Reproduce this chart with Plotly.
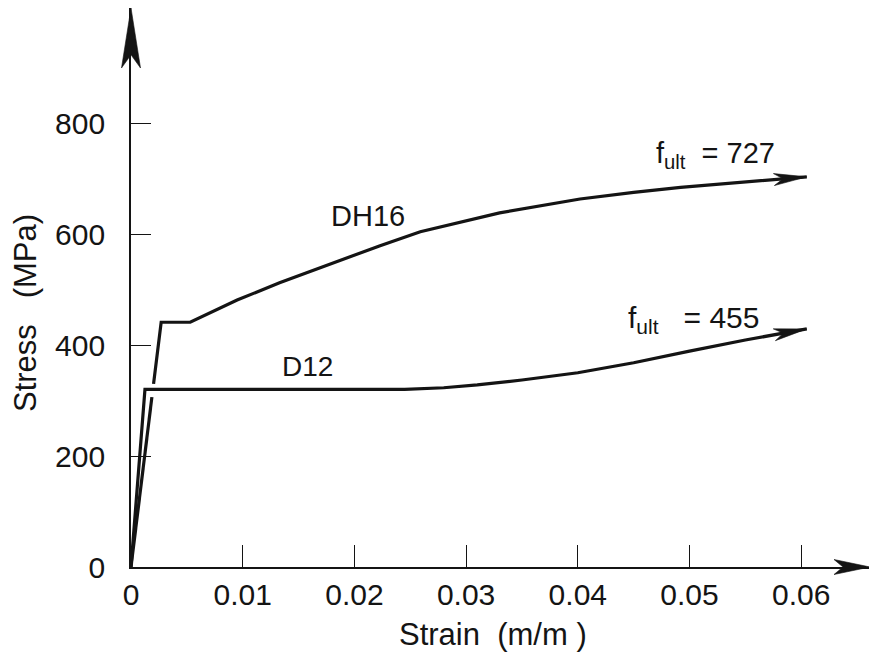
import math
import plotly.graph_objects as go

# ---------------- data ----------------
d12_strain = [0, 0.00125, 0.0245, 0.028, 0.031, 0.035, 0.040, 0.045, 0.050, 0.055, 0.0605]
d12_stress = [0, 320, 320, 323, 328, 337, 350, 368, 389, 409, 429]

dh16_strain = [0, 0.00187, None, 0.00202, 0.0027, 0.0053, 0.0095, 0.0133, 0.0187, 0.0223,
               0.0259, 0.0300, 0.0330, 0.0402, 0.0450, 0.0492, 0.0540, 0.0575, 0.0605]
dh16_stress = [0, 306, None, 330, 441, 441, 481, 512, 553, 579,
               604, 624, 638, 663, 675, 684, 692, 698, 703]

x_tick_vals = [0, 0.01, 0.02, 0.03, 0.04, 0.05, 0.06]
x_tick_text = ["0", "0.01", "0.02", "0.03", "0.04", "0.05", "0.06"]
y_tick_vals = [0, 200, 400, 600, 800]
y_tick_text = ["0", "200", "400", "600", "800"]

curve_labels = ["DH16", "D12"]
ult_values = [727, 455]

# ---------------- layout geometry ----------------
OFF = 8                       # page body margin of the html page
W, H = 877 - OFF, 653 - OFF
ML, MR, MT = 131 - OFF, 7, 0
MB = H - (567 - OFF)
PW, PH = W - ML - MR, H - MT - MB
KX = 11170.0          # px per unit strain
KY = 0.555            # px per MPa
XMAX = PW / KX
YMAX = PH / KY

INK = "#141414"
FONT = "Liberation Sans, Arial, sans-serif"


def px_x(page_px):
    return (page_px - OFF - ML) / PW


def px_y(page_py):
    return (MT + PH - (page_py - OFF)) / PH


def to_paper(x, y):
    return x / XMAX, y / YMAX


def dart(ax, ay, angle, length, width, notch=0.72):
    """Dart-shaped arrowhead path in pixel units, anchored at paper (ax, ay)."""
    c, s = math.cos(angle), math.sin(angle)
    pts = [(0, 0), (-length, width / 2), (-length * notch, 0), (-length, -width / 2)]
    rot = [(u * c - v * s, u * s + v * c) for u, v in pts]
    path = "M " + " L ".join(f"{u:.2f},{v:.2f}" for u, v in rot) + " Z"
    return dict(type="path", xref="paper", yref="paper",
                xsizemode="pixel", ysizemode="pixel",
                xanchor=ax, yanchor=ay, path=path,
                fillcolor=INK, line=dict(color=INK, width=0.6), layer="above")


def end_arrow(xs, ys, length=33, width=12):
    x1, y1 = xs[-1], ys[-1]
    x0, y0 = xs[-2], ys[-2]
    ang = math.atan2((y1 - y0) * KY, (x1 - x0) * KX)
    ax, ay = to_paper(x1, y1)
    return dart(ax, ay, ang, length, width)


fig = go.Figure()
fig.add_trace(go.Scatter(x=d12_strain, y=d12_stress, mode="lines",
                         line=dict(color=INK, width=3.2), connectgaps=False,
                         name="D12", showlegend=False))
fig.add_trace(go.Scatter(x=dh16_strain, y=dh16_stress, mode="lines",
                         line=dict(color=INK, width=3.2), connectgaps=False,
                         name="DH16", showlegend=False))

shapes = [
    dart(0, 1, math.pi / 2, 60, 19, notch=0.78),   # y-axis arrow
    dart(1, 0, 0, 36, 15, notch=0.75),             # x-axis arrow
    end_arrow(dh16_strain, dh16_stress),
    end_arrow(d12_strain, d12_stress),
]

annotations = [
    dict(x=0.0212, y=632, xref="x", yref="y", text=curve_labels[0], showarrow=False,
         xanchor="center", yanchor="middle",
         font=dict(size=29, color=INK, family=FONT)),
    dict(x=0.01576, y=362, xref="x", yref="y", text=curve_labels[1], showarrow=False,
         xanchor="center", yanchor="middle",
         font=dict(size=28, color=INK, family=FONT)),
    dict(x=0.0468, y=742, xref="x", yref="y", xanchor="left", yanchor="middle",
         text="f<sub>ult</sub>\u00a0\u00a0= " + str(ult_values[0]), showarrow=False,
         font=dict(size=29, color=INK, family=FONT)),
    dict(x=0.0443, y=446, xref="x", yref="y", xanchor="left", yanchor="middle",
         text="f<sub>ult</sub>\u00a0\u00a0\u00a0= " + str(ult_values[1]), showarrow=False,
         font=dict(size=30, color=INK, family=FONT)),
    dict(x=px_x(493), y=px_y(634), xref="paper", yref="paper",
         xanchor="center", yanchor="middle",
         text="Strain\u00a0\u00a0(m/m\u00a0)", showarrow=False,
         font=dict(size=31, color=INK, family=FONT)),
    dict(x=px_x(25), y=px_y(313), xref="paper", yref="paper", textangle=-90,
         xanchor="center", yanchor="middle",
         text="Stress\u00a0\u00a0\u00a0(MPa)", showarrow=False,
         font=dict(size=31, color=INK, family=FONT)),
]

fig.update_layout(
    width=W, height=H,
    margin=dict(l=ML, r=MR, t=MT, b=MB, pad=0),
    paper_bgcolor="white", plot_bgcolor="white",
    showlegend=False,
    shapes=shapes,
    annotations=annotations,
    xaxis=dict(range=[0, XMAX], showgrid=False, zeroline=False,
               showline=True, linecolor=INK, linewidth=1.8,
               ticks="inside", ticklen=22, tickwidth=1.3, tickcolor=INK,
               tickvals=x_tick_vals, ticktext=x_tick_text,
               ticklabelstandoff=0,
               tickfont=dict(size=30, color=INK, family=FONT)),
    yaxis=dict(range=[0, YMAX], showgrid=False, zeroline=False,
               showline=True, linecolor=INK, linewidth=1.8,
               ticks="inside", ticklen=20, tickwidth=1.3, tickcolor=INK,
               tickvals=y_tick_vals, ticktext=y_tick_text,
               ticklabelstandoff=18,
               tickfont=dict(size=30, color=INK, family=FONT)),
)

fig.write_html("out.html")
